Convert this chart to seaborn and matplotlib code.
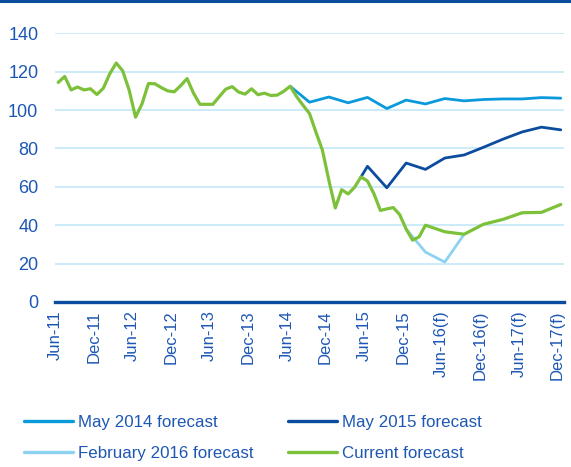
import numpy as np
import pandas as pd
import matplotlib
matplotlib.use("Agg")
import matplotlib.pyplot as plt
import seaborn as sns
from matplotlib.lines import Line2D

sns.set_theme(style="white")
plt.rcParams['font.family'] = ['Liberation Sans', 'DejaVu Sans']

# ---------------- data ----------------
hist_values = [
    114.4, 117.5, 110.5, 112.0, 110.5, 111.1, 108.1,                          # 2011 Jun-Dec
    111.4, 118.9, 124.5, 120.5, 110.5, 96.3, 103.2, 113.8, 113.7, 111.7, 110.0, 109.5,  # 2012
    112.7, 116.4, 108.8, 103.0, 103.0, 103.0, 107.0, 110.9, 112.2, 109.4, 108.3, 111.1,  # 2013
    108.0, 108.8, 107.6, 107.8, 109.8, 112.4, 107.0, 102.5, 98.2, 88.5, 79.2, 63.5,      # 2014
    49.0, 58.5, 56.3, 59.8, 65.2, 63.0, 56.4, 47.7, 48.5, 49.2, 45.5, 38.0,             # 2015
    32.2, 33.9, 40.0,                                                                    # 2016 Jan-Mar
]
current_fc_dates = ["2016-06", "2016-09", "2016-12", "2017-03", "2017-06", "2017-09", "2017-12"]
current_fc_values = [36.6, 35.3, 40.5, 43.0, 46.5, 46.7, 50.8]

may2014_dates = ["2014-06", "2014-09", "2014-12", "2015-03", "2015-06", "2015-09", "2015-12",
                 "2016-03", "2016-06", "2016-09", "2016-12", "2017-03", "2017-06", "2017-09", "2017-12"]
may2014_values = [112.4, 104.1, 106.8, 103.8, 106.6, 100.8, 105.2,
                  103.2, 106.0, 104.8, 105.5, 105.8, 105.8, 106.5, 106.2]

may2015_dates = ["2015-05", "2015-06", "2015-09", "2015-12", "2016-03", "2016-06",
                 "2016-09", "2016-12", "2017-03", "2017-06", "2017-09", "2017-12"]
may2015_values = [65.2, 70.7, 59.5, 72.4, 69.1, 75.0, 76.6, 80.6, 84.8, 88.6, 91.1, 89.7]

feb2016_dates = ["2015-12", "2016-03", "2016-06", "2016-09"]
feb2016_values = [38.0, 26.0, 20.8, 35.3]

tick_dates = ["2011-06", "2011-12", "2012-06", "2012-12", "2013-06", "2013-12", "2014-06",
              "2014-12", "2015-06", "2015-12", "2016-06", "2016-12", "2017-06", "2017-12"]
tick_labels = ["Jun-11", "Dec-11", "Jun-12", "Dec-12", "Jun-13", "Dec-13", "Jun-14",
               "Dec-14", "Jun-15", "Dec-15", "Jun-16(f)", "Dec-16(f)", "Jun-17(f)", "Dec-17(f)"]

series_names = ["May 2014 forecast", "May 2015 forecast", "February 2016 forecast", "Current forecast"]
colors = {"May 2014 forecast": "#0A9ADB", "May 2015 forecast": "#0B4C9F",
          "February 2016 forecast": "#8ED2F2", "Current forecast": "#7DC13A"}

# ---------------- build frames ----------------
def month_pos(ds):
    # position in months since Jun-2011, placed mid-month
    d = pd.to_datetime(pd.Series(ds))
    return ((d.dt.year - 2011) * 12 + d.dt.month - 6 + 0.5).to_numpy()

hist_dates = pd.date_range("2011-06-01", "2016-03-01", freq="MS").strftime("%Y-%m").tolist()
cur_dates = hist_dates + current_fc_dates
cur_values = hist_values + current_fc_values

frames = {
    "May 2014 forecast": pd.DataFrame({"x": month_pos(may2014_dates), "y": may2014_values}),
    "May 2015 forecast": pd.DataFrame({"x": month_pos(may2015_dates), "y": may2015_values}),
    "February 2016 forecast": pd.DataFrame({"x": month_pos(feb2016_dates), "y": feb2016_values}),
    "Current forecast": pd.DataFrame({"x": month_pos(cur_dates), "y": cur_values}),
}
widths = {"May 2014 forecast": 2.0, "May 2015 forecast": 2.0,
          "February 2016 forecast": 2.0, "Current forecast": 2.3}

# ---------------- figure ----------------
fig = plt.figure(figsize=(5.71, 4.67), dpi=100)
ax = fig.add_axes([55 / 571, 1 - 302 / 467, 509 / 571, (302 - 33.3) / 467])

text_col = "#1D57B5"
grid_col = "#C8E9F8"
axis_col = "#0B4C9F"

for i, name in enumerate(series_names):
    df = frames[name]
    sns.lineplot(data=df, x="x", y="y", ax=ax, color=colors[name], linewidth=widths[name],
                 sort=False, estimator=None, zorder=3 + i, label=name, legend=False)

ax.set_xlim(0, 79)
ax.set_ylim(0, 140)
ax.set_yticks(np.arange(0, 141, 20))
ax.set_yticklabels([str(v) for v in range(0, 141, 20)])
ax.set_xticks(month_pos(tick_dates) - 0.5)
ax.set_xticklabels(tick_labels, rotation=90)
ax.set_xlabel("")
ax.set_ylabel("")

ax.grid(axis="y", color=grid_col, linewidth=1.3, zorder=0)
ax.grid(axis="x", visible=False)
for s in ["top", "right", "left"]:
    ax.spines[s].set_visible(False)
ax.spines["bottom"].set_color(axis_col)
ax.spines["bottom"].set_linewidth(2.4)
ax.spines["bottom"].set_zorder(10)

ax.tick_params(axis="x", direction="out", length=5, width=2, color=axis_col,
               labelcolor=text_col, labelsize=12, pad=1)
ax.tick_params(axis="y", length=0, labelcolor=text_col, labelsize=13, pad=12)

# top border line
fig.add_artist(Line2D([0, 1], [1 - 1.2 / 467, 1 - 1.2 / 467], transform=fig.transFigure,
                      color=axis_col, linewidth=2.2))

# legend (column-major order so rows read: May 2014 | May 2015, Feb 2016 | Current)
leg_order = ["May 2014 forecast", "February 2016 forecast", "May 2015 forecast", "Current forecast"]
handles = [Line2D([0], [0], color=colors[n], linewidth=2.4) for n in leg_order]
leg = fig.legend(handles, leg_order, ncol=2, loc="upper left",
                 bbox_to_anchor=(24 / 571, 1 - 415 / 467), frameon=False,
                 borderpad=0, borderaxespad=0,
                 fontsize=12.2, labelcolor=text_col, handlelength=2.9, handletextpad=0.3,
                 columnspacing=2.0, labelspacing=0.95)

fig.savefig("out.png", dpi=100)
